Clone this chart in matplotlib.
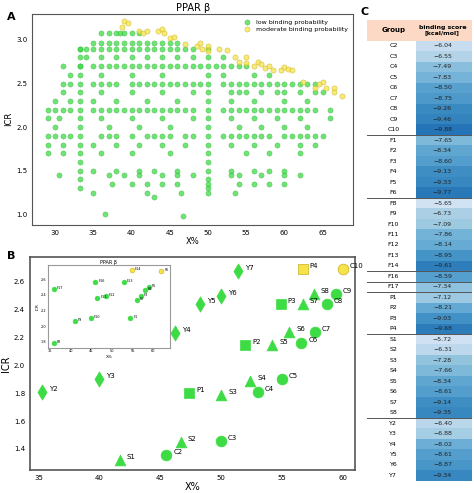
import numpy as np
import matplotlib
matplotlib.use("Agg")
import matplotlib.pyplot as plt
from matplotlib.patches import Rectangle

GREEN = "#3ddc45"
YELLOW = "#f5e34a"

# ---- panel A: bands of low-probability points (ICR level -> X% values)
bands = {
    3.08: [36, 37, 38, 38.5, 39, 40, 41],
    2.96: [35, 36, 37, 38, 39, 40, 41, 42, 43, 44, 45, 46],
    2.90: [33.3, 34, 35, 36, 37, 38, 39, 40, 41, 42, 43, 44, 45, 46, 47, 48],
    2.80: [34, 36, 38, 40, 42, 44, 46, 48, 52],
    2.70: [31, 33.3, 35, 36, 37, 38, 39, 40, 41, 42, 43, 44, 45, 46, 47, 48, 49, 51, 52, 53, 54, 55],
    2.60: [32, 36, 40, 44, 52, 56, 58],
    2.50: [31, 32, 35, 36, 37, 38, 40, 41, 42, 43, 44, 45, 46, 47, 48, 49, 52, 53, 54, 55, 56, 57, 58, 59, 60, 61, 62, 63, 64],
    2.40: [31, 36, 40, 44, 48, 53, 54, 55, 57, 59, 60, 62, 64, 65],
    2.30: [30, 32, 35, 38, 42, 46, 53, 56, 60, 63],
    2.20: [29, 30, 31, 32, 35, 36, 37, 38, 39, 40, 41, 42, 43, 44, 45, 46, 47, 48, 52, 53, 54, 55, 56, 57, 58, 59, 60, 61, 62, 63, 64, 66],
    2.10: [29, 30.5, 36, 40, 44, 48, 53, 56, 59, 62, 66],
    2.00: [30, 37, 41, 45, 54, 57, 60, 63],
    1.90: [29, 30, 31, 32, 36, 37, 38, 40, 42, 43, 44, 45, 47, 48, 52, 53, 54, 55, 56, 57, 58, 60, 61, 62, 63, 64, 65],
    1.80: [29, 31, 35, 38, 41, 44, 47, 53, 56, 59, 62, 64],
    1.70: [29, 31, 36, 40, 45, 55, 58, 62],
    1.50: [35, 38, 41, 43, 46, 53, 56, 58, 60],
    1.45: [30.5, 37, 39, 41, 44, 46, 48, 53, 54, 57, 60, 62],
    1.35: [37.5, 40, 42, 44, 46, 54, 56, 58, 60],
    1.25: [35, 42, 46.5, 53.5],
}
col_x = [33.3, 50]
col_icr = [1.3, 1.4, 1.5, 1.6, 1.7, 1.8, 1.9, 2.0, 2.1, 2.2, 2.3, 2.4, 2.5, 2.6, 2.7, 2.8, 2.9]
extra_x = [36.5, 46.7, 43, 50, 50]
extra_icr = [1.0, 0.98, 1.2, 1.25, 1.35]

mod_x = [39, 39.5, 38.8, 41, 41.5, 42, 43.5, 44, 44.3, 45, 45.5, 47, 48.5, 49, 49.2, 50, 50,
         51.5, 52.5, 53.5, 54, 55, 55, 56, 56.5, 57, 57.5, 58, 58.5, 59.5, 60, 60.5, 61,
         62.5, 64.5, 65, 65.5, 66.5, 66.5, 67.5, 64]
mod_icr = [3.22, 3.2, 3.15, 3.1, 3.08, 3.1, 3.1, 3.12, 3.08, 3.02, 3.03, 2.95, 2.93, 2.97, 2.9,
           2.93, 2.87, 2.9, 2.88, 2.8, 2.75, 2.8, 2.74, 2.7, 2.75, 2.72, 2.68, 2.7, 2.65, 2.65,
           2.69, 2.67, 2.65, 2.52, 2.5, 2.52, 2.45, 2.45, 2.4, 2.36, 2.45]

# ---- panel B
groups_b = {
    "Y": (["Y2", "Y3", "Y4", "Y5", "Y6", "Y7"],
          [35.3, 40, 46.2, 48.3, 50, 51.4], [1.81, 1.90, 2.23, 2.44, 2.50, 2.68], "d"),
    "P": (["P1", "P2", "P3", "P4"],
          [47.4, 52, 54.9, 56.7], [1.80, 2.15, 2.44, 2.69], "s"),
    "S": (["S1", "S2", "S3", "S4", "S5", "S6", "S7", "S8"],
          [41.7, 46.7, 50, 52.4, 54.2, 55.6, 56.7, 57.6],
          [1.32, 1.45, 1.79, 1.89, 2.15, 2.24, 2.44, 2.51], "^"),
    "C": (["C2", "C3", "C4", "C5", "C6", "C7", "C8", "C9", "C10"],
          [45.5, 50, 53, 55, 56.6, 57.7, 58.7, 59.4, 60],
          [1.36, 1.46, 1.81, 1.90, 2.16, 2.24, 2.44, 2.51, 2.69], "o"),
}
moderate_b = ["P4", "C10"]

f_labels = ["F17", "F8", "F9", "F10", "F16", "F11", "F12", "F13", "F1", "F2", "F3", "F4", "F5", "F14", "F6"]
f_x = [36.0, 36.0, 41, 45, 46, 46.5, 48.5, 53, 54.5, 56, 57, 58, 59, 54.8, 62]
f_icr = [2.47, 1.79, 2.07, 2.11, 2.57, 2.36, 2.39, 2.57, 2.10, 2.34, 2.38, 2.46, 2.50, 2.72, 2.70]
f_moderate = ["F14", "F6"]

# ---- panel C
tbl_groups = ["C2", "C3", "C4", "C5", "C6", "C7", "C8", "C9", "C10",
              "F1", "F2", "F3", "F4", "F5", "F6",
              "F8", "F9", "F10", "F11", "F12", "F13", "F14",
              "F16", "F17",
              "P1", "P2", "P3", "P4",
              "S1", "S2", "S3", "S4", "S5", "S6", "S7", "S8",
              "Y2", "Y3", "Y4", "Y5", "Y6", "Y7"]
tbl_scores = [-6.04, -6.55, -7.49, -7.83, -8.50, -8.75, -9.26, -9.46, -9.88,
              -7.65, -8.34, -8.60, -9.13, -9.33, -9.77,
              -5.65, -6.73, -7.09, -7.86, -8.14, -8.95, -9.61,
              -8.59, -7.34,
              -7.12, -8.21, -9.03, -9.68,
              -5.72, -6.31, -7.28, -7.66, -8.34, -8.61, -9.14, -9.35,
              -6.40, -6.88, -8.02, -8.61, -8.87, -9.34]
separators_after = ["C10", "F6", "F14", "F16", "F17", "P4", "S8"]

fig = plt.figure(figsize=(4.74, 4.93), dpi=100)

# A
axA = fig.add_axes([0.068, 0.544, 0.677, 0.428])
gx, gy = [], []
for lvl, xs in bands.items():
    gx += xs
    gy += [lvl] * len(xs)
for cx in col_x:
    gx += [cx] * len(col_icr)
    gy += col_icr
gx += extra_x
gy += extra_icr
axA.scatter(gx, gy, s=14, c=GREEN, alpha=0.75, edgecolors="#2aa832", linewidths=0.3,
            label="low binding probability")
axA.scatter(mod_x, mod_icr, s=14, c=YELLOW, alpha=0.75, edgecolors="#c9b020", linewidths=0.4,
            label="moderate binding probability")
axA.set_xlim(27, 69)
axA.set_ylim(0.88, 3.3)
axA.set_xticks([30, 35, 40, 45, 50, 55, 60, 65])
axA.set_yticks([1.0, 1.5, 2.0, 2.5, 3.0])
axA.tick_params(labelsize=5, length=0)
axA.set_xlabel("X%", fontsize=6, labelpad=1)
axA.set_ylabel("ICR", fontsize=6, labelpad=2)
axA.set_title("PPAR β", fontsize=7, pad=2)
axA.legend(fontsize=4.5, loc="upper right", frameon=False, handletextpad=0.3, labelspacing=0.3)
for sp in axA.spines.values():
    sp.set_color("#555555")
fig.text(0.015, 0.975, "A", fontsize=8, fontweight="bold", va="top")

# B
axB = fig.add_axes([0.063, 0.047, 0.686, 0.432])
for key, (labels, xs, ys, mk) in groups_b.items():
    for lab, x, y in zip(labels, xs, ys):
        col = YELLOW if lab in moderate_b else GREEN
        ec = "#c9b020" if lab in moderate_b else GREEN
        axB.scatter([x], [y], marker=mk, s=60, c=col, edgecolors=ec, linewidths=0.5)
        axB.annotate(lab, (x, y), xytext=(5, 0), textcoords="offset points",
                     fontsize=5, va="bottom")
axB.set_xlim(34.3, 61)
axB.set_ylim(1.25, 2.78)
axB.set_xticks([35, 40, 45, 50, 55, 60])
axB.set_yticks([1.4, 1.6, 1.8, 2.0, 2.2, 2.4, 2.6])
axB.tick_params(labelsize=5, length=0)
axB.set_xlabel("X%", fontsize=7, labelpad=1)
axB.set_ylabel("ICR", fontsize=7, labelpad=2)
for sp in axB.spines.values():
    sp.set_color("#555555")
    sp.set_linewidth(1.2)
fig.text(0.015, 0.49, "B", fontsize=8, fontweight="bold", va="top")

# inset
axI = fig.add_axes([0.101, 0.294, 0.257, 0.168])
for lab, x, y in zip(f_labels, f_x, f_icr):
    mod = lab in f_moderate
    axI.scatter([x], [y], s=12, c=YELLOW if mod else GREEN,
                edgecolors="#c9b020" if mod else GREEN, linewidths=0.4)
    axI.annotate(lab, (x, y), xytext=(2, 0), textcoords="offset points", fontsize=2.5)
axI.set_xlim(34.5, 64)
axI.set_ylim(1.72, 2.78)
axI.set_xticks([35, 40, 45, 50, 55, 60])
axI.set_yticks([1.8, 2.0, 2.2, 2.4, 2.6])
axI.tick_params(labelsize=2.5, length=0, pad=1)
axI.set_xlabel("X%", fontsize=3, labelpad=1)
axI.set_ylabel("ICR", fontsize=3, labelpad=1)
axI.set_title("PPAR β", fontsize=3.5, pad=1)
for sp in axI.spines.values():
    sp.set_color("#999999")

# C
axC = fig.add_axes([0.775, 0.025, 0.22, 0.935])
n = len(tbl_groups)
axC.set_xlim(0, 1)
axC.set_ylim(n + 2, 0)
axC.axis("off")
axC.add_patch(Rectangle((0, 0), 1, 2, color="#fbd9c4", lw=0))
axC.text(0.25, 1, "Group", fontsize=5, fontweight="bold", ha="center", va="center")
axC.text(0.72, 1, "binding score\n[kcal/mol]", fontsize=4.5, fontweight="bold",
         ha="center", va="center", linespacing=1.1)
cmap = plt.get_cmap("Blues")
for i, (g, s) in enumerate(zip(tbl_groups, tbl_scores)):
    y = i + 2
    frac = (-s - 5.3) / (10.0 - 5.3)
    c = cmap(0.15 + 0.6 * frac)
    axC.add_patch(Rectangle((0.47, y), 0.53, 1, color=c, lw=0))
    axC.text(0.25, y + 0.5, g, fontsize=4.5, ha="center", va="center")
    axC.text(0.72, y + 0.5, f"\u2212{abs(s):.2f}", fontsize=4.5, ha="center", va="center",
             color="#222222")
    if g in separators_after:
        axC.plot([0, 1], [y + 1, y + 1], color="#555555", lw=0.7)
fig.text(0.76, 0.985, "C", fontsize=8, fontweight="bold", va="top")

fig.savefig("out.png", dpi=100)
